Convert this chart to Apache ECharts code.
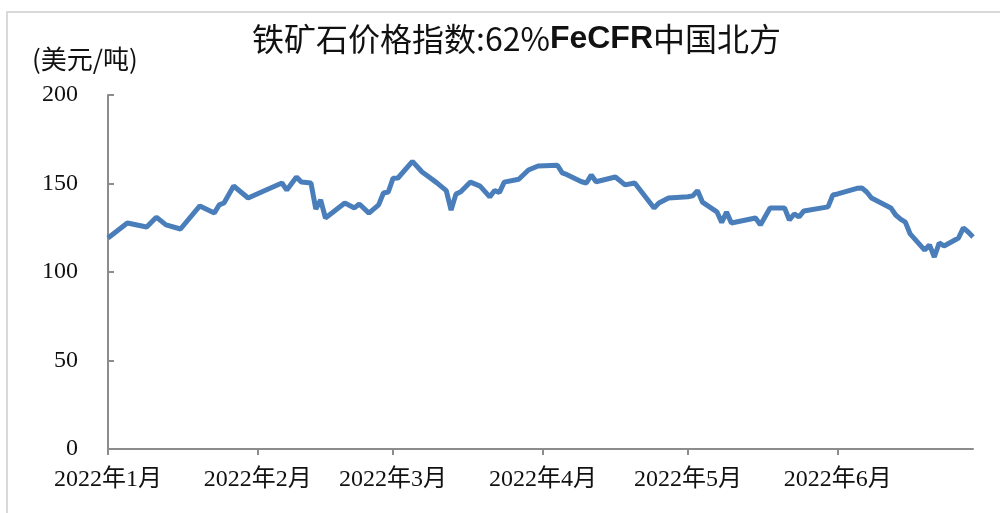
<!DOCTYPE html>
<html>
<head>
<meta charset="utf-8">
<script src="https://cdn.jsdelivr.net/npm/echarts@6/dist/echarts.min.js"></script>
<style>
  html, body { margin: 0; padding: 0; background: #fff; }
  #main { width: 1000px; height: 513px; }
</style>
</head>
<body>
<div id="main"></div>
<script>
// 铁矿石价格指数 62% Fe CFR 中国北方 (美元/吨)
var dates = [
  '2022-01-01', '2022-01-05', '2022-01-09', '2022-01-11', '2022-01-13', '2022-01-16',
  '2022-01-20', '2022-01-23', '2022-01-24', '2022-01-25', '2022-01-27', '2022-01-30',
  '2022-02-02', '2022-02-06', '2022-02-07', '2022-02-09', '2022-02-10', '2022-02-12',
  '2022-02-13', '2022-02-14', '2022-02-15', '2022-02-19', '2022-02-21', '2022-02-22',
  '2022-02-24', '2022-02-26', '2022-02-27', '2022-02-28', '2022-03-01', '2022-03-02',
  '2022-03-05', '2022-03-07', '2022-03-08', '2022-03-10', '2022-03-12', '2022-03-13',
  '2022-03-14', '2022-03-15', '2022-03-17', '2022-03-19', '2022-03-21', '2022-03-22',
  '2022-03-23', '2022-03-24', '2022-03-27', '2022-03-29', '2022-03-31', '2022-04-04',
  '2022-04-05', '2022-04-06', '2022-04-09', '2022-04-10', '2022-04-11', '2022-04-12',
  '2022-04-16', '2022-04-18', '2022-04-20', '2022-04-24', '2022-04-25', '2022-04-27',
  '2022-05-01', '2022-05-02', '2022-05-03', '2022-05-04', '2022-05-07', '2022-05-08',
  '2022-05-09', '2022-05-10', '2022-05-15', '2022-05-16', '2022-05-18', '2022-05-21',
  '2022-05-22', '2022-05-23', '2022-05-24', '2022-05-25', '2022-05-30', '2022-05-31',
  '2022-06-01', '2022-06-05', '2022-06-06', '2022-06-07', '2022-06-08', '2022-06-12',
  '2022-06-13', '2022-06-14', '2022-06-15', '2022-06-16', '2022-06-19', '2022-06-20',
  '2022-06-21', '2022-06-22', '2022-06-23', '2022-06-26', '2022-06-27', '2022-06-28',
  '2022-06-29'
];
var prices = [
  119.2, 127.7, 125.4, 131.0, 126.6, 124.3,
  137.3, 133.3, 137.9, 139.0, 148.6, 141.8,
  145.5, 150.3, 146.3, 153.7, 150.8, 150.3,
  135.6, 140.7, 130.5, 139.0, 136.2, 138.4,
  133.3, 137.9, 144.6, 145.2, 153.0, 153.1,
  162.5, 156.5, 154.5, 150.5, 146.0, 135.0,
  144.0, 145.3, 150.8, 148.5, 142.4, 146.0,
  145.0, 150.8, 152.4, 157.6, 159.9, 160.3,
  156.0, 155.0, 151.0, 150.3, 154.8, 151.0,
  153.7, 149.2, 150.3, 136.2, 139.0, 141.8,
  142.5, 143.0, 146.0, 139.5, 134.0, 128.0,
  133.9, 127.7, 130.5, 126.6, 136.2, 136.2,
  129.4, 132.8, 131.1, 134.5, 136.8, 143.5,
  144.1, 147.3, 147.5, 145.2, 141.8, 136.2,
  132.2, 129.9, 128.2, 121.5, 112.4, 115.3,
  108.5, 116.4, 114.7, 119.2, 124.9, 122.6,
  119.8
];
var yTicks = [0, 50, 100, 150, 200];

var labelFont = "'Liberation Serif', 'Noto Sans CJK SC', serif";

var chart = echarts.init(document.getElementById('main'));
chart.setOption({
  animation: false,
  backgroundColor: '#fff',
  title: {
    text: '铁矿石价格指数:62%{b|FeCFR}中国北方',
    left: 247,
    top: 18,
    textStyle: {
      fontFamily: "'Noto Sans CJK SC'",
      fontSize: 32,
      fontWeight: 'normal',
      color: '#111',
      rich: {
        b: { fontFamily: "'Liberation Sans', Arial", fontSize: 32, fontWeight: 'bold', color: '#111' }
      }
    }
  },
  graphic: [
    {  // 外框
      type: 'rect',
      shape: { x: 7, y: 12, width: 1010, height: 520 },
      style: { fill: 'none', stroke: '#d9d9d9', lineWidth: 2 },
      silent: true
    },
    {  // 单位
      type: 'text',
      left: 32,
      top: 46,
      style: { text: '(美元/吨)', font: "26px 'Noto Sans CJK SC'", fill: '#111' }
    }
  ],
  grid: {
    left: 108,
    right: 27,
    top: 95,
    bottom: 64,
    containLabel: false
  },
  xAxis: {
    type: 'time',
    min: '2022-01-01',
    max: '2022-06-29',
    splitNumber: 6,
    axisLine: { lineStyle: { color: '#8c8c8c', width: 2 } },
    axisTick: { show: true, length: 6, lineStyle: { color: '#8c8c8c', width: 2 } },
    minorTick: { show: false },
    splitLine: { show: false },
    axisLabel: {
      margin: 19,
      fontFamily: labelFont,
      fontSize: 24,
      color: '#111',
      showMinLabel: true,
      formatter: function (val) {
        var d = new Date(val);
        return d.getFullYear() + '年' + (d.getMonth() + 1) + '月';
      }
    }
  },
  yAxis: {
    type: 'value',
    min: yTicks[0],
    max: yTicks[yTicks.length - 1],
    interval: 50,
    axisLine: { show: true, lineStyle: { color: '#8c8c8c', width: 2 } },
    axisTick: { show: true, inside: true, length: 6, lineStyle: { color: '#8c8c8c', width: 2 } },
    splitLine: { show: false },
    axisLabel: {
      margin: 30,
      fontFamily: labelFont,
      fontSize: 24,
      color: '#111'
    }
  },
  series: [
    {
      name: '62%FeCFR中国北方',
      type: 'line',
      showSymbol: false,
      symbol: 'none',
      lineStyle: { color: '#4a7ebb', width: 5 },
      data: dates.map(function (d, i) { return [d, prices[i]]; })
    }
  ]
});
</script>
</body>
</html>
